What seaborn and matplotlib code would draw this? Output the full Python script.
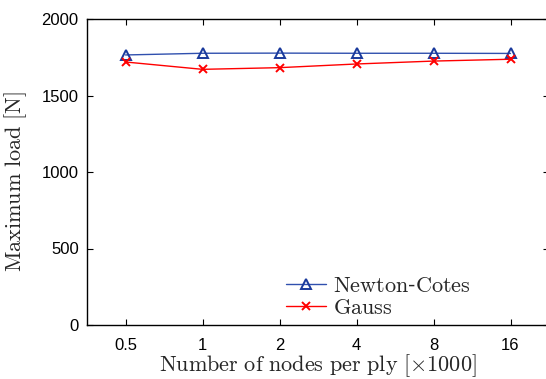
import pandas as pd
import seaborn as sns
import matplotlib.pyplot as plt

nodes = ["0.5", "1", "2", "4", "8", "16"]
newton_cotes = [1765, 1776, 1777, 1776, 1776, 1775]
gauss = [1719, 1671, 1682, 1706, 1725, 1737]
series_names = ["Newton-Cotes", "Gauss"]

data = pd.DataFrame({
    "nodes": nodes * 2,
    "load": newton_cotes + gauss,
    "method": [series_names[0]] * len(nodes) + [series_names[1]] * len(nodes),
})

sns.set_theme(style="ticks")
plt.rcParams["font.family"] = ["Liberation Sans", "DejaVu Sans"]
plt.rcParams["mathtext.fontset"] = "cm"

f = plt.figure(figsize=[5.46, 3.79], dpi=100)
ax = f.add_axes([87 / 546, 54 / 379, 462 / 546, 306 / 379])

sns.pointplot(data, x="nodes", y="load", hue="method", order=nodes,
              palette=["#1a3a9c", "#ff0000"], markers=["^", "x"],
              linestyles=["-", "-"], errorbar=None, legend=False, ax=ax)

for line in ax.lines:
    line.set_linewidth(1.0)
    line.set_markersize(7)
    line.set_markeredgewidth(1.4)
    line.set_markerfacecolor("none")
ax.lines[0].set_color("#3050ae")
ax.lines[0].set_markeredgecolor("#1a3a9c")
ax.lines[1].set_markersize(6)

ax.set_ylim(0, 2000)
ax.set_yticks([0, 500, 1000, 1500, 2000])
ax.set_xlim(-0.5, len(nodes) - 0.5)
ax.tick_params(direction="in", top=True, right=True, length=4, width=0.8,
               labelsize=12, colors="black")
ax.tick_params(axis="x", pad=9)
ax.tick_params(axis="y", pad=6)
for s in ax.spines.values():
    s.set_linewidth(1.0)
    s.set_color("black")

ax.set_xlabel(r"$\mathrm{Number\ of\ nodes\ per\ ply}\ [\times 1000]$", fontsize=16, labelpad=0)
ax.set_ylabel(r"$\mathrm{Maximum\ load}\ [\mathrm{N}]$", fontsize=16)
ax.yaxis.set_label_coords(-0.125, 0.467)

leg = ax.legend(ax.lines[:2], [r"$\mathrm{Newton}$-$\mathrm{Cotes}$", r"$\mathrm{Gauss}$"],
                loc="lower right", frameon=False, fontsize=16,
                handlelength=1.8, handletextpad=0.3, labelspacing=0.05,
                borderaxespad=0, bbox_to_anchor=(0.85, -0.01))

f.savefig("out.png", dpi=100)
